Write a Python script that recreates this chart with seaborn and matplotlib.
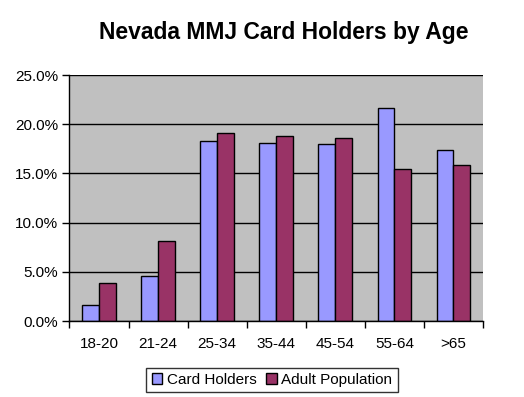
import matplotlib
matplotlib.use("Agg")
import matplotlib.pyplot as plt
import seaborn as sns
import pandas as pd
from matplotlib.ticker import FuncFormatter, FixedLocator, NullFormatter

categories = ["18-20", "21-24", "25-34", "35-44", "45-54", "55-64", ">65"]
card_holders = [1.6, 4.6, 18.3, 18.1, 18.0, 21.6, 17.4]
adult_population = [3.9, 8.1, 19.1, 18.8, 18.6, 15.5, 15.9]
series_names = ["Card Holders", "Adult Population"]
colors = ["#9999FF", "#993366"]

df = pd.DataFrame({
    "age": categories * 2,
    "value": card_holders + adult_population,
    "series": [series_names[0]] * len(categories) + [series_names[1]] * len(categories),
})

sns.set_style("white")
plt.rcParams["font.family"] = ["Liberation Sans", "DejaVu Sans"]
plt.rcParams["text.color"] = "black"
plt.rcParams["xtick.color"] = "black"
plt.rcParams["ytick.color"] = "black"

fig = plt.figure(figsize=(5.24, 3.97), dpi=100)
ax = fig.add_axes([0.1326, 0.1914, 0.9218 - 0.1326, 0.811 - 0.1914])
sns.barplot(data=df, x="age", y="value", hue="series", palette=colors,
            width=0.572, gap=0, edgecolor="black", linewidth=1.0, ax=ax,
            saturation=1, legend=True)
ax.set_facecolor("#C0C0C0")
ax.set_ylim(0, 25)
ax.set_xlim(-0.5, len(categories) - 0.5)
ax.set_yticks([0, 5, 10, 15, 20, 25])
ax.yaxis.set_major_formatter(FuncFormatter(lambda v, p: f"{v:.1f}%"))
ax.yaxis.grid(True, color="black", linewidth=1.0)
ax.set_axisbelow(True)
ax.set_xlabel("")
ax.set_ylabel("")
for s in ["top", "right"]:
    ax.spines[s].set_visible(False)
for s in ["left", "bottom"]:
    ax.spines[s].set_color("black")
    ax.spines[s].set_linewidth(1.0)
ax.tick_params(axis="y", which="major", left=True, length=5, width=1, color="black",
               labelsize=11, pad=3, direction="out", labelcolor="black")
ax.tick_params(axis="x", which="major", bottom=False, labelsize=11, pad=8, labelcolor="black")
ax.xaxis.set_minor_locator(FixedLocator([i - 0.5 for i in range(len(categories) + 1)]))
ax.xaxis.set_minor_formatter(NullFormatter())
ax.tick_params(axis="x", which="minor", bottom=True, length=5, width=1, color="black", direction="out")

fig.text(284 / 524, 1 - 33 / 397, "Nevada MMJ Card Holders by Age", ha="center", va="center",
         fontsize=16.5, fontweight="bold", color="black")

leg = ax.legend(loc="center", bbox_to_anchor=(272 / 524, 1 - 380 / 397), bbox_transform=fig.transFigure,
                ncol=2, frameon=True, fancybox=False, edgecolor="black", fontsize=11,
                handlelength=0.7, handleheight=0.7, handletextpad=0.3, columnspacing=0.6,
                borderpad=0.35)
leg.get_frame().set_linewidth(1.0)

fig.savefig("out.png", dpi=100, facecolor="white")
